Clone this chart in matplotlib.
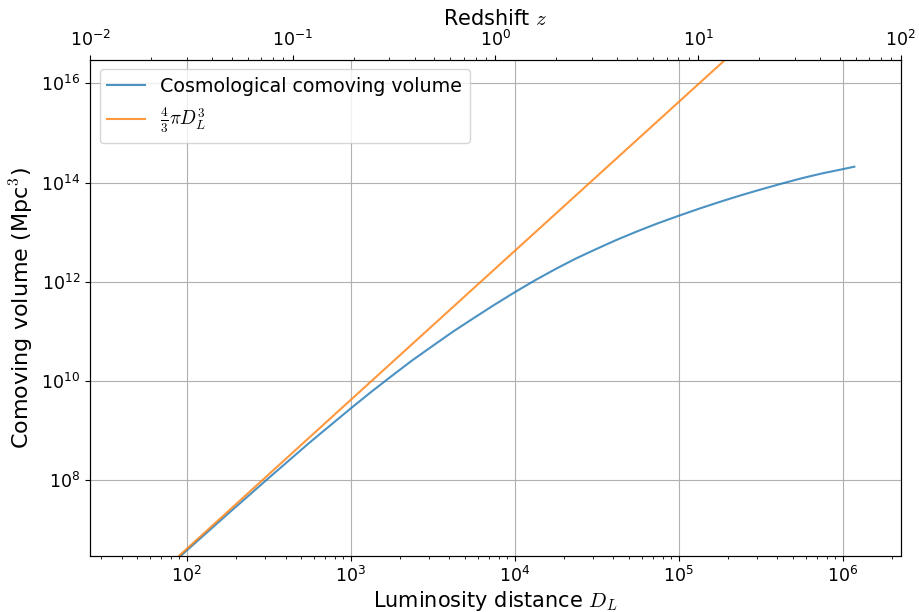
import matplotlib.pyplot as plt

plt.rcParams['mathtext.fontset'] = 'cm'

# luminosity distance (Mpc) and volumes (Mpc^3)
dl_blue = [90, 100, 177.8, 316.2, 562.3, 1000, 1334, 1778, 2371, 3162, 4217, 5623, 7499,
           1.0e4, 1.334e4, 1.778e4, 2.371e4, 3.162e4, 4.217e4, 5.623e4, 7.499e4,
           1.0e5, 1.334e5, 1.778e5, 2.371e5, 3.162e5, 4.217e5, 5.623e5, 7.499e5, 1.0e6, 1.18e6]
vol_blue = [2.84e6, 3.89e6, 2.11e7, 1.12e8, 5.82e8, 2.82e9, 6.08e9, 1.27e10, 2.62e10, 5.13e10, 1.0e11, 1.86e11, 3.43e11,
            6.17e11, 1.08e12, 1.82e12, 2.97e12, 4.62e12, 7.08e12, 1.05e13, 1.52e13,
            2.14e13, 2.98e13, 4.07e13, 5.48e13, 7.24e13, 9.46e13, 1.22e14, 1.53e14, 1.86e14, 2.09e14]

dl_orange = [88, 1.0e3, 1.0e4, 1.0e5, 1.9e5]
vol_orange = [2.85e6, 4.19e9, 4.19e12, 4.19e15, 2.87e16]

fig = plt.figure(figsize=(9.19, 6.12), dpi=100)
ax = fig.add_axes([0.098, 0.0915, 0.882, 0.8105])

ax.loglog(dl_blue, vol_blue, color='#1f77b4', alpha=0.8, lw=1.5, label='Cosmological comoving volume')
ax.loglog(dl_orange, vol_orange, color='#ff7f0e', alpha=0.8, lw=1.5, label=r'$\frac{4}{3}\pi D_L^3$')

ax.set_xlim(25.7, 2.26e6)
ax.set_ylim(3.0e6, 2.95e16)
ax.grid(True, which='major', color='#b0b0b0', lw=0.8)
ax.set_xlabel(r'Luminosity distance $D_L$', fontsize=15, labelpad=2)
ax.set_ylabel(r'Comoving volume (Mpc$^3$)', fontsize=16)
ax.tick_params(labelsize=12.5)
ax.legend(loc='upper left', fontsize=13.7)

ax2 = ax.twiny()
ax2.set_xscale('log')
ax2.set_xlim(1e-2, 1e2)
ax2.set_xlabel(r'Redshift $z$', fontsize=15)
ax2.tick_params(labelsize=12.5)

fig.savefig('out.png')
